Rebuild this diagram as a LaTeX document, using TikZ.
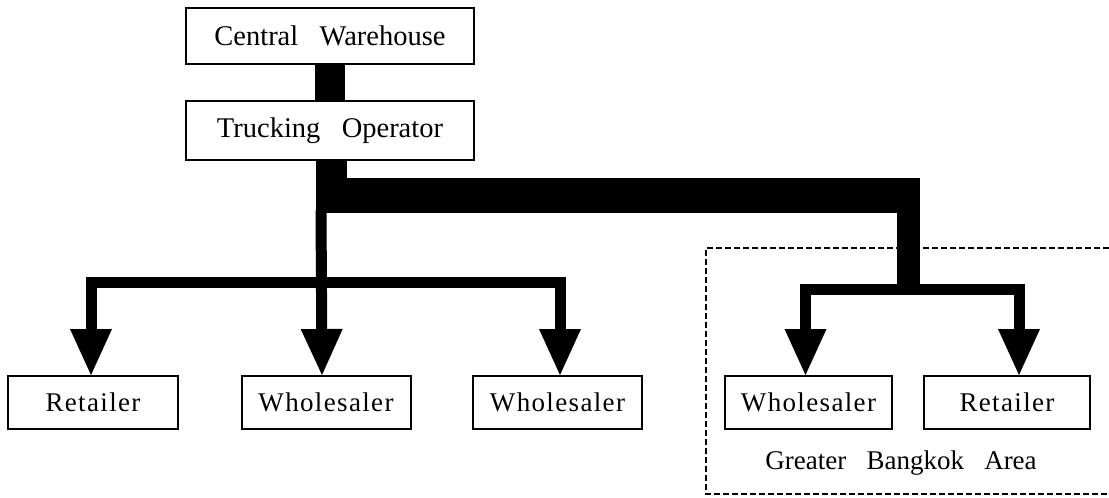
\documentclass[tikz,border=0pt]{standalone}
\usepackage{fontspec}
\setmainfont{Liberation Serif}[WordSpace=3]
\usetikzlibrary{arrows.meta}
\begin{document}
\begin{tikzpicture}[x=1pt,y=-1pt,
  label text/.style={font=\fontsize{27}{30}\selectfont},
  box/.style={draw, line width=2pt, inner sep=0pt, label text},
  topbox/.style={box, minimum width=288pt, font=\fontsize{28.5}{32}\selectfont},
  endbox/.style={box, minimum height=53pt,
    font=\fontsize{27}{30}\selectfont\addfontfeature{LetterSpace=5}},
  feed/.style={line width=11pt, line join=miter,
    -{Triangle[length=46pt,width=42pt,line width=0pt]}},
  region/.style={line width=2pt, dash pattern=on 6pt off 3pt}
]
\useasboundingbox (0,0) rectangle (1109,498);

% supply chain boxes
\node[topbox, minimum height=56pt] (cw) at (330,36) {Central Warehouse};
\node[topbox, minimum height=59pt] (to) at (330,130.5) {Trucking Operator};
\node[endbox, minimum width=170pt] (r1) at (93,402.5) {Retailer};
\node[endbox, minimum width=169pt] (w2) at (326,402.5) {Wholesaler};
\node[endbox, minimum width=169pt] (w3) at (557.5,402.5) {Wholesaler};
\node[endbox, minimum width=167pt] (w4) at (808.5,402.5) {Wholesaler};
\node[endbox, minimum width=166pt] (r5) at (1007,402.5) {Retailer};

% main trunk
\draw[line width=30pt] (cw.south) -- (to.north);
\draw[line width=31pt] ([xshift=1.5pt]to.south) -- ++(0,20);
\coordinate (barW) at (316,195.5);
\coordinate (barE) at (920,195.5);
\draw[line width=35pt] (barW) -- (barE);
\coordinate (dropTop) at (908.5,212);
\coordinate (dropFoot) at (908.5,295);
\draw[line width=23pt] (dropTop) -- (dropFoot);

% western branches
\coordinate (westTop) at (321,210);
\coordinate (westTee) at (321,282);
\draw[feed] (westTop) -- ([xshift=-4pt]w2.north);
\draw[feed] (westTee) -| ([xshift=-2pt]r1.north);
\draw[feed] (westTee) -| ([xshift=2.5pt]w3.north);

% eastern branches
\coordinate (eastTee) at (908.5,289.5);
\draw[feed] (eastTee) -| ([xshift=-3pt]w4.north);
\draw[feed] (eastTee) -| ([xshift=12pt]r5.north);

% Greater Bangkok region
\draw[region] (1109,248) -- (706,248) -- (706,494) -- (1109,494);
\node[label text] (gba) at (901,463) {Greater Bangkok Area};
\end{tikzpicture}
\end{document}
